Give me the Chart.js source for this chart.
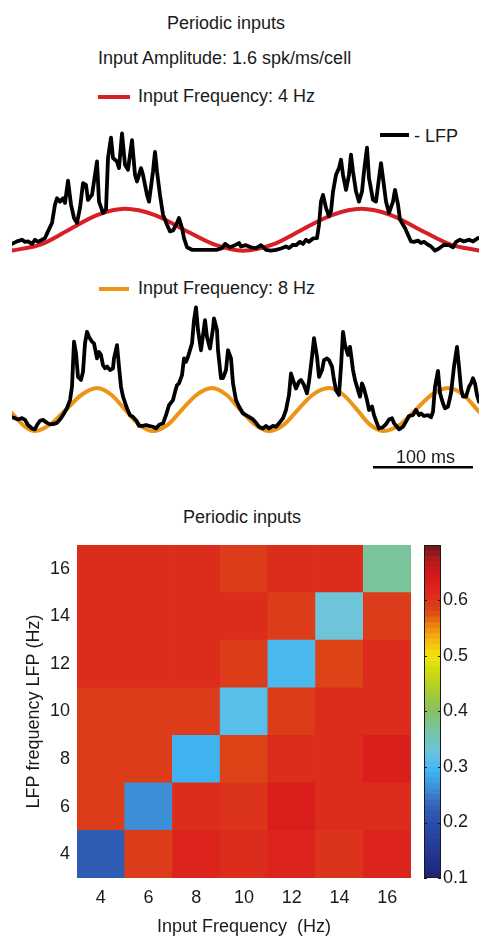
<!DOCTYPE html>
<html>
<head>
<meta charset="utf-8">
<title>Periodic inputs</title>
<script src="https://cdn.jsdelivr.net/npm/chart.js@4.4.1/dist/chart.umd.min.js"></script>
<style>
  body { margin: 0; background: #fff; }
  #fig { position: relative; width: 481px; height: 938px; overflow: hidden;
         font-family: "Liberation Sans", Arial, sans-serif; color: #1a1a1a; }
  #fig canvas, .txt, .key { position: absolute; }
  .txt { font-size: 18px; line-height: 22px; white-space: nowrap; }
  .key { height: 4px; }
</style>
</head>
<body>
<div id="fig">
  <div class="txt" style="left:167px;top:12px">Periodic inputs</div>
  <div class="txt" style="left:98px;top:47px">Input Amplitude: 1.6 spk/ms/cell</div>

  <div class="key" style="left:98px;top:95px;width:32px;background:#d71f26"></div>
  <div class="txt" style="left:138px;top:85px">Input Frequency: 4 Hz</div>
  <div class="key" style="left:380px;top:133px;width:29px;background:#000"></div>
  <div class="txt" style="left:414px;top:125px">- LFP</div>
  <canvas id="trace4" width="467" height="134" style="left:12px;top:125px"></canvas>

  <div class="key" style="left:99px;top:287px;width:30px;background:#ec9416"></div>
  <div class="txt" style="left:138px;top:277px">Input Frequency: 8 Hz</div>
  <canvas id="trace8" width="467" height="174" style="left:12px;top:300px"></canvas>
  <div class="txt" style="left:396px;top:446px">100 ms</div>

  <div class="txt" style="left:183px;top:506px">Periodic inputs</div>
  <canvas id="heatmap" width="420" height="418" style="left:0px;top:520px"></canvas>
  <canvas id="colorbar" width="63" height="380" style="left:418px;top:520px"></canvas>
</div>

<script>
// ---- Top panel: 4 Hz input (time in ms, amplitude in units of the input peak) ----
const lfp4Time = [
    0, 5, 10, 13, 16, 20, 23, 26, 30, 33,
    36, 40, 43, 45, 48, 51, 53, 56, 59, 62,
    65, 68, 71, 74, 76, 80, 82, 85, 87, 91,
    94, 96, 99, 101, 105, 107, 110, 113, 116, 120,
    123, 125, 129, 131, 135, 137, 141, 143, 145, 148,
    151, 155, 158, 161, 165, 167, 170, 172, 175, 180,
    188, 196, 205, 210, 213, 218, 223, 227, 229, 234,
    239, 244, 249, 254, 259, 264, 269, 274, 277, 281,
    284, 288, 291, 294, 297, 301, 305, 307, 309, 311,
    314, 317, 319, 321, 324, 327, 329, 331, 334, 337,
    339, 341, 344, 347, 350, 352, 355, 357, 361, 364,
    367, 369, 371, 374, 377, 381, 383, 386, 388, 391,
    393, 396, 399, 402, 406, 409, 412, 416, 419, 423,
    427, 432, 437, 441, 444, 448, 452, 457, 461, 466,
];
const lfp4Value = [
    0.16, 0.22, 0.26, 0.21, 0.22, 0.16, 0.26, 0.21, 0.26, 0.30,
    0.46, 0.66, 1.10, 1.25, 1.17, 1.25, 1.14, 1.67, 1.10, 0.78,
    0.66, 1.02, 1.61, 1.57, 1.21, 1.33, 1.65, 2.13, 1.17, 0.90,
    0.98, 2.21, 2.70, 2.21, 2.13, 1.97, 2.80, 2.05, 1.93, 2.64,
    1.81, 1.65, 1.97, 1.81, 1.33, 1.17, 1.89, 2.36, 1.89, 1.33,
    0.86, 0.62, 0.46, 0.48, 0.66, 0.78, 0.54, 0.30, 0.08, 0.02,
    0.02, 0.02, 0.02, 0.06, 0.16, 0.08, 0.13, 0.18, 0.10, 0.13,
    0.08, 0.06, 0.13, 0.02, 0.00, 0.02, 0.05, 0.10, 0.06, 0.14,
    0.13, 0.21, 0.16, 0.26, 0.21, 0.29, 0.30, 0.62, 1.17, 1.33,
    1.02, 0.82, 0.94, 1.41, 1.81, 1.97, 2.17, 1.81, 1.45, 1.81,
    2.29, 1.89, 1.41, 1.17, 1.41, 1.89, 2.46, 1.73, 1.21, 1.17,
    1.73, 2.09, 1.73, 1.17, 0.90, 1.17, 1.45, 1.10, 0.74, 0.62,
    0.54, 0.38, 0.22, 0.21, 0.24, 0.18, 0.21, 0.14, 0.10, 0.00,
    0.05, 0.14, 0.13, 0.08, 0.21, 0.26, 0.22, 0.26, 0.22, 0.30,
];
const input4Time = [0, 29, 57, 85, 113, 143, 172, 202, 231, 261, 290, 320, 349, 379, 408, 438, 467];
const input4Value = [0, 0.15, 0.5, 0.85, 1, 0.85, 0.5, 0.15, 0, 0.15, 0.5, 0.85, 1, 0.85, 0.5, 0.15, 0];

// ---- Bottom panel: 8 Hz input ----
const lfp8Time = [
    0, 3, 6, 10, 13, 16, 20, 23, 25, 28,
    31, 35, 38, 41, 45, 48, 51, 55, 58, 60,
    62, 64, 66, 69, 71, 73, 75, 77, 80, 82,
    85, 87, 89, 91, 93, 95, 98, 101, 102, 105,
    107, 109, 111, 115, 118, 121, 125, 127, 131, 134,
    137, 141, 144, 147, 151, 154, 157, 161, 163, 165,
    167, 170, 172, 174, 176, 180, 182, 184, 186, 189,
    191, 193, 195, 198, 201, 202, 205, 206, 209, 211,
    214, 216, 219, 221, 224, 227, 231, 234, 237, 241,
    244, 247, 251, 254, 257, 261, 264, 267, 271, 274,
    277, 279, 281, 284, 287, 289, 292, 295, 297, 300,
    302, 305, 307, 310, 312, 315, 317, 320, 322, 324,
    327, 329, 331, 333, 336, 338, 341, 343, 346, 348,
    350, 352, 355, 357, 360, 362, 365, 367, 371, 374,
    377, 380, 382, 385, 387, 391, 394, 397, 401, 404,
    407, 409, 412, 416, 419, 421, 423, 426, 428, 431,
    433, 436, 439, 442, 445, 447, 449, 451, 454, 457,
    459, 461, 463, 465, 467,
];
const lfp8Value = [
    0.32, 0.30, 0.27, 0.30, 0.26, 0.14, 0.06, 0.04, 0.14, 0.24,
    0.26, 0.19, 0.16, 0.16, 0.19, 0.27, 0.37, 0.53, 0.72, 1.03,
    2.08, 1.81, 1.26, 1.19, 1.38, 2.04, 2.31, 2.19, 2.08, 2.04,
    1.69, 1.84, 1.77, 1.53, 1.46, 1.50, 1.42, 1.46, 1.69, 2.00,
    1.50, 1.03, 0.80, 0.53, 0.37, 0.33, 0.22, 0.12, 0.12, 0.14,
    0.12, 0.10, 0.06, 0.14, 0.18, 0.37, 0.60, 0.72, 0.91, 1.07,
    1.11, 1.30, 1.69, 1.61, 1.73, 2.04, 2.58, 2.88, 2.35, 1.88,
    2.23, 2.58, 2.19, 1.92, 2.39, 2.62, 2.35, 1.88, 1.23, 1.23,
    1.42, 1.88, 1.69, 1.11, 0.72, 0.57, 0.41, 0.37, 0.33, 0.27,
    0.19, 0.10, 0.06, 0.12, 0.06, 0.12, 0.10, 0.18, 0.30, 0.49,
    0.84, 1.34, 1.19, 0.99, 1.15, 1.19, 1.07, 0.88, 1.15, 1.73,
    2.16, 1.73, 1.26, 1.42, 1.65, 1.69, 1.65, 1.50, 1.19, 0.95,
    0.84, 1.50, 2.31, 2.00, 1.77, 1.96, 1.42, 1.19, 0.95, 0.80,
    1.11, 0.99, 0.72, 0.49, 0.57, 0.37, 0.18, 0.06, 0.09, 0.16,
    0.27, 0.30, 0.18, 0.10, 0.04, 0.10, 0.22, 0.35, 0.37, 0.49,
    0.37, 0.41, 0.35, 0.37, 0.32, 0.45, 1.03, 1.40, 0.88, 0.64,
    0.53, 0.57, 0.88, 1.50, 1.96, 1.50, 0.99, 0.80, 0.80, 1.03,
    1.11, 1.23, 1.11, 0.84, 0.68,
];
const input8Time = [
    0, 12, 23, 38, 54, 70, 85, 99, 113, 127, 141, 156, 170, 185, 200, 214,
    228, 243, 257, 272, 286, 301, 317, 331, 345, 358, 372, 388, 404, 420, 436, 451, 467,
];
const input8Value = [
    0.42, 0.12, 0, 0.15, 0.5, 0.85, 1, 0.85, 0.5, 0.15, 0, 0.15, 0.5, 0.85, 1, 0.85,
    0.5, 0.15, 0, 0.15, 0.5, 0.85, 1, 0.85, 0.5, 0.15, 0, 0.15, 0.5, 0.85, 1, 0.85, 0.45,
];
const scaleBarMs = [361, 461]; // 100 ms

// ---- Heat map: rows = LFP frequency (4..16 Hz), columns = input frequency ----
const inputFreqs = [4, 6, 8, 10, 12, 14, 16];
const lfpFreqs = [4, 6, 8, 10, 12, 14, 16];
const heatValues = [
    [0.22, 0.59, 0.62, 0.61, 0.62, 0.60, 0.62], // LFP 4 Hz
    [0.59, 0.26, 0.61, 0.60, 0.63, 0.61, 0.61], // LFP 6 Hz
    [0.59, 0.59, 0.29, 0.58, 0.61, 0.61, 0.63], // LFP 8 Hz
    [0.59, 0.59, 0.59, 0.31, 0.59, 0.61, 0.61], // LFP 10 Hz
    [0.61, 0.61, 0.61, 0.59, 0.30, 0.58, 0.61], // LFP 12 Hz
    [0.61, 0.61, 0.61, 0.61, 0.59, 0.33, 0.59], // LFP 14 Hz
    [0.61, 0.61, 0.61, 0.59, 0.61, 0.61, 0.37], // LFP 16 Hz
];
const colorbarTicks = [0.1, 0.2, 0.3, 0.4, 0.5, 0.6];
const colorRange = [0.1, 0.7];

// Colour map sampled from the colour bar
const cmapStops = [0.10, 0.15, 0.20, 0.23, 0.26, 0.29, 0.31, 0.33, 0.37, 0.40,
                   0.45, 0.50, 0.53, 0.56, 0.58, 0.60, 0.62, 0.64, 0.67, 0.70];
const cmapColors = ['#1b2375', '#263896', '#2c4dab', '#3463ba', '#3c8ed6', '#40b2f0', '#56bfea',
                    '#6ec4d8', '#7ac49c', '#86c062', '#b6d21a', '#f2e40e', '#f4b410', '#ea7612',
                    '#dc4418', '#dc341a', '#dc241c', '#d8181c', '#b81a1e', '#6a1818'];

function hexToRgb(h) {
    return [1, 3, 5].map(i => parseInt(h.slice(i, i + 2), 16));
}

function colormap(v) {
    if (v <= cmapStops[0]) return cmapColors[0];
    for (let i = 1; i < cmapStops.length; i++) {
        if (v <= cmapStops[i]) {
            const f = (v - cmapStops[i - 1]) / (cmapStops[i] - cmapStops[i - 1]);
            const a = hexToRgb(cmapColors[i - 1]);
            const b = hexToRgb(cmapColors[i]);
            const c = a.map((x, k) => Math.round(x + (b[k] - x) * f));
            return `rgb(${c[0]}, ${c[1]}, ${c[2]})`;
        }
    }
    return cmapColors[cmapColors.length - 1];
}

Chart.defaults.font.family = '"Liberation Sans", Arial, sans-serif';
Chart.defaults.font.size = 18;
Chart.defaults.color = '#1a1a1a';

const toPoints = (t, v) => t.map((x, i) => ({ x: x, y: v[i] }));

// Function to draw one trace panel (LFP in black over the input sinusoid)
function renderTrace(id, lfpT, lfpV, inT, inV, inColor, yMin, yMax, extra) {
    const datasets = [
        { data: toPoints(lfpT, lfpV), borderColor: '#000', borderWidth: 3.8, clip: false },
        { data: toPoints(inT, inV), borderColor: inColor, borderWidth: 4,
          cubicInterpolationMode: 'monotone', clip: false },
    ].concat(extra || []);

    new Chart(document.getElementById(id), {
        type: 'line',
        data: { datasets: datasets },
        options: {
            responsive: false,
            animation: false,
            layout: { padding: 0 },
            elements: {
                point: { radius: 0 },
                line: { borderJoinStyle: 'round', borderCapStyle: 'round' },
            },
            scales: {
                x: { type: 'linear', min: 0, max: 467, display: false },
                y: { min: yMin, max: yMax, display: false },
            },
            plugins: { legend: { display: false }, tooltip: { enabled: false } },
        },
    });
}

renderTrace('trace4', lfp4Time, lfp4Value, input4Time, input4Value, '#d71f26', -0.2, 3.0);
renderTrace('trace8', lfp8Time, lfp8Value, input8Time, input8Value, '#ec9416', -1.0, 3.05, [{
    data: scaleBarMs.map(t => ({ x: t, y: -0.84 })),
    borderColor: '#000', borderWidth: 2.5, borderCapStyle: 'butt', clip: false,
}]);

// Heat map: one floating-bar dataset per LFP-frequency row
new Chart(document.getElementById('heatmap'), {
    type: 'bar',
    data: {
        labels: inputFreqs.map(String),
        datasets: lfpFreqs.map((f, r) => ({
            data: inputFreqs.map(() => [f - 1, f + 1]),
            backgroundColor: heatValues[r].map(colormap),
            borderWidth: 0,
            barPercentage: 1,
            categoryPercentage: 1,
            grouped: false,
        })),
    },
    options: {
        responsive: false,
        animation: false,
        layout: { padding: { top: 25, right: 9, left: 0, bottom: 0 } },
        scales: {
            x: {
                grid: { display: false, drawTicks: false },
                border: { display: false },
                ticks: { padding: 9 },
                title: { display: true, text: 'Input Frequency  (Hz)', padding: { top: 0, bottom: 0 } },
                afterFit: scale => { scale.height = 60; },
            },
            y: {
                type: 'linear',
                min: 3,
                max: 17,
                grid: { display: false, drawTicks: false },
                border: { display: false },
                ticks: { padding: 7 },
                afterBuildTicks: scale => { scale.ticks = lfpFreqs.map(v => ({ value: v })); },
                title: { display: true, text: 'LFP frequency LFP (Hz)', padding: { top: 23, bottom: 0 } },
                afterFit: scale => { scale.width = 77; },
            },
        },
        plugins: { legend: { display: false }, tooltip: { enabled: false } },
    },
});

// Colour bar: stacked bands of the colour map plus frame and inner tick marks
const bands = [];
for (let k = 0; k < 60; k++) bands.push(colorRange[0] + k * 0.01);

const colorbarFrame = {
    id: 'colorbarFrame',
    afterDatasetsDraw(chart) {
        const { ctx, chartArea: a } = chart;
        const y = chart.scales.y;
        ctx.save();
        ctx.strokeStyle = '#1a1a1a';
        ctx.lineWidth = 1;
        ctx.strokeRect(a.left + 0.5, a.top + 0.5, a.width - 1, a.height - 1);
        colorbarTicks.forEach(v => {
            const py = Math.round(y.getPixelForValue(v)) + 0.5;
            ctx.beginPath();
            ctx.moveTo(a.left, py);
            ctx.lineTo(a.left + 3, py);
            ctx.moveTo(a.right - 3, py);
            ctx.lineTo(a.right, py);
            ctx.stroke();
        });
        ctx.restore();
    },
};

new Chart(document.getElementById('colorbar'), {
    type: 'bar',
    data: {
        labels: ['level'],
        datasets: bands.map(lo => ({
            data: [[lo, lo + 0.0102]],
            backgroundColor: colormap(lo + 0.005),
            borderWidth: 0,
            barPercentage: 1,
            categoryPercentage: 1,
            grouped: false,
        })),
    },
    options: {
        responsive: false,
        animation: false,
        layout: { padding: { top: 25, left: 6, right: 0, bottom: 22 } },
        scales: {
            x: { display: false },
            y: {
                position: 'right',
                min: colorRange[0],
                max: colorRange[1],
                grid: { display: false, drawTicks: false },
                border: { display: false },
                ticks: { padding: 2, callback: v => v.toFixed(1) },
                afterBuildTicks: scale => { scale.ticks = colorbarTicks.map(v => ({ value: v })); },
                afterFit: scale => { scale.width = 40; },
            },
        },
        plugins: { legend: { display: false }, tooltip: { enabled: false } },
    },
    plugins: [colorbarFrame],
});
</script>
</body>
</html>
